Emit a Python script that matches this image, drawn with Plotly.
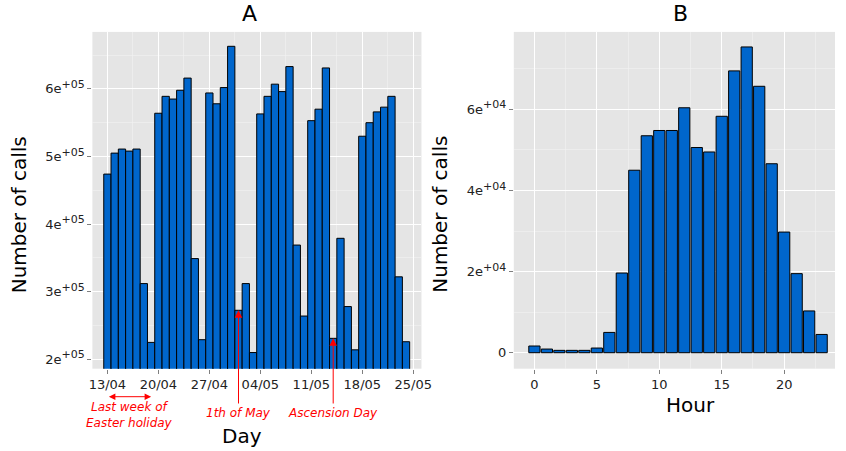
import plotly.graph_objects as go

# ---------------- data ----------------
days = ["2015-04-13", "2015-04-14", "2015-04-15", "2015-04-16", "2015-04-17", "2015-04-18", "2015-04-19",
        "2015-04-20", "2015-04-21", "2015-04-22", "2015-04-23", "2015-04-24", "2015-04-25", "2015-04-26",
        "2015-04-27", "2015-04-28", "2015-04-29", "2015-04-30", "2015-05-01", "2015-05-02", "2015-05-03",
        "2015-05-04", "2015-05-05", "2015-05-06", "2015-05-07", "2015-05-08", "2015-05-09", "2015-05-10",
        "2015-05-11", "2015-05-12", "2015-05-13", "2015-05-14", "2015-05-15", "2015-05-16", "2015-05-17",
        "2015-05-18", "2015-05-19", "2015-05-20", "2015-05-21", "2015-05-22", "2015-05-23", "2015-05-24"]
calls_per_day = [474000, 505000, 511000, 508000, 511000, 312000, 225000,
                 564000, 589000, 585000, 598000, 616000, 349000, 229000,
                 594000, 578000, 602000, 663000, 272500, 312000, 210000,
                 563000, 589000, 607000, 596000, 633000, 369000, 264000,
                 553000, 570000, 631000, 231000, 379000, 278000, 214000,
                 530000, 550000, 566000, 573000, 589000, 322000, 226000]

hours = list(range(24))
calls_per_hour = [1650, 900, 580, 580, 580, 1150, 5000, 19650, 45000, 53500, 54800, 54800,
                  60400, 50600, 49500, 58300, 69500, 75400, 65700, 46600, 29750, 19500, 10300, 4500]

SUP = "<sup><span style='font-size:11px'>%s</span></sup>"
yticks_a = [200000, 300000, 400000, 500000, 600000]
yticklabels_a = ["2e" + SUP % "+05", "3e" + SUP % "+05", "4e" + SUP % "+05", "5e" + SUP % "+05", "6e" + SUP % "+05"]
yticks_b = [0, 20000, 40000, 60000]
yticklabels_b = ["0", "2e" + SUP % "+04", "4e" + SUP % "+04", "6e" + SUP % "+04"]

holiday_start, holiday_end, holiday_mid = 0, 6, 3
may_first_idx = 18
ascension_idx = 31

# ---------------- layout constants ----------------
W, H = 846, 451
FONT = "DejaVu Sans"
BAR = "#0066CC"
BG = "#E5E5E5"
RED = "#FF0000"
DAY_MS = 86400000

top_px, bot_px = 31.9, 368.7
ydom = [1 - bot_px / H, 1 - top_px / H]

yrange_a = [186095, 684320]
yrange_b = [-3946, 79112]


def px_(x):
    return x / W


def py(p):
    return 1 - p / H


def px_of_a(v):
    return top_px + (yrange_a[1] - v) / (yrange_a[1] - yrange_a[0]) * (bot_px - top_px)


fig = go.Figure()
fig.add_trace(go.Bar(x=days, y=calls_per_day, width=DAY_MS, marker=dict(color=BAR, line=dict(color="black", width=1)),
                     xaxis="x", yaxis="y", showlegend=False))
fig.add_trace(go.Bar(x=hours, y=calls_per_hour, width=0.9, marker=dict(color=BAR, line=dict(color="black", width=1)),
                     xaxis="x2", yaxis="y2", showlegend=False))

tickfont = dict(family=FONT, size=13, color="#222222")
common = dict(showline=False, ticks="outside", ticklen=4, tickwidth=1, tickcolor="#7F7F7F",
              gridcolor="white", gridwidth=1.1, zeroline=False, tickfont=tickfont)

fig.update_layout(
    width=W, height=H, margin=dict(l=0, r=0, t=0, b=0),
    paper_bgcolor="white", plot_bgcolor=BG, bargap=0,
    xaxis=dict(domain=[px_(90), px_(425)], anchor="y", type="date",
               range=["2015-04-10 22:34", "2015-05-26 02:53"],
               tick0="2015-04-13", dtick=7 * DAY_MS, tickformat="%d/%m",
               minor=dict(tickmode="linear", tick0="2015-04-09 12:00", dtick=7 * DAY_MS,
                          showgrid=True, gridcolor="#F2F2F2", gridwidth=0.6, ticks=""),
               **common),
    yaxis=dict(domain=ydom, anchor="x", range=yrange_a, tickvals=yticks_a, ticktext=yticklabels_a,
               minor=dict(tickmode="linear", tick0=150000, dtick=100000,
                          showgrid=True, gridcolor="#F2F2F2", gridwidth=0.6, ticks=""),
               **common),
    xaxis2=dict(domain=[px_(519), 1], anchor="y2", range=[-1.65, 24.07],
                tickvals=[0, 5, 10, 15, 20],
                minor=dict(tickmode="linear", tick0=2.5, dtick=5,
                           showgrid=True, gridcolor="#F2F2F2", gridwidth=0.6, ticks=""),
                **common),
    yaxis2=dict(domain=ydom, anchor="x2", range=yrange_b, tickvals=yticks_b, ticktext=yticklabels_b,
                minor=dict(tickmode="linear", tick0=10000, dtick=20000,
                           showgrid=True, gridcolor="#F2F2F2", gridwidth=0.6, ticks=""),
                **common),
)

ann = []
# panel titles
for t, xc in (("A", 250), ("B", 688.7)):
    ann.append(dict(text=t, x=px_(xc), y=py(14), xref="paper", yref="paper", showarrow=False,
                    xanchor="center", yanchor="middle", font=dict(family=FONT, size=22, color="black")))
# axis titles
for xc in (15, 443):
    ann.append(dict(text="Number of calls", x=px_(xc), y=py(214.6), xref="paper", yref="paper", showarrow=False,
                    textangle=-90, xanchor="center", yanchor="middle", font=dict(family=FONT, size=20, color="black")))
ann.append(dict(text="Day", x=px_(242.7), y=py(436), xref="paper", yref="paper", showarrow=False,
                xanchor="center", yanchor="middle", font=dict(family=FONT, size=20, color="black")))
ann.append(dict(text="Hour", x=px_(699), y=py(405), xref="paper", yref="paper", showarrow=False,
                xanchor="center", yanchor="middle", font=dict(family=FONT, size=20, color="black")))

# event arrows
tail_px = 405
for idx, label in ((may_first_idx, "1th of May"), (ascension_idx, "Ascension Day")):
    tip = px_of_a(calls_per_day[idx])
    ann.append(dict(text="", x=days[idx], y=calls_per_day[idx], xref="x", yref="y",
                    showarrow=True, ax=0, ay=tail_px - tip, arrowhead=2, arrowsize=1.5, arrowwidth=1,
                    arrowcolor=RED, standoff=0))
    ann.append(dict(text="<i>" + label + "</i>", x=days[idx], y=py(413), xref="x", yref="paper",
                    showarrow=False, xanchor="center", yanchor="middle",
                    font=dict(family=FONT, size=12, color=RED)))

# holiday double arrow
ann.append(dict(text="", x=days[holiday_end], y=py(396.7), xref="x", yref="paper",
                axref="x", ax=days[holiday_start], ayref="pixel", ay=0,
                showarrow=True, arrowside="end+start", arrowhead=2, arrowsize=1.3, arrowwidth=1,
                arrowcolor=RED, standoff=0, startstandoff=0, startarrowhead=2, startarrowsize=1.3))
ann.append(dict(text="<i>Last week of<br>Easter holiday</i>", x=days[holiday_mid], y=py(414.5), xref="x", yref="paper",
                showarrow=False, xanchor="center", yanchor="middle",
                font=dict(family=FONT, size=12, color=RED)))

fig.update_layout(annotations=ann)
fig.write_html("out.html", config={"displayModeBar": False, "staticPlot": True},
               post_script="document.body.style.margin='0';document.body.style.overflow='hidden';")
